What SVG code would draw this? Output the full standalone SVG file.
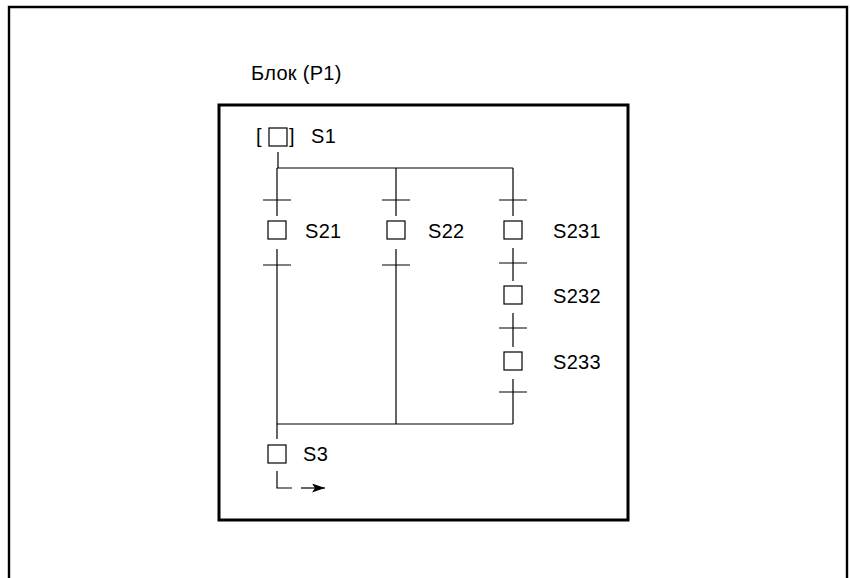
<svg xmlns="http://www.w3.org/2000/svg" width="850" height="578" viewBox="0 0 850 578">
<defs>
<style>
.ln{stroke:#000;stroke-width:1.2;fill:none}
.sq{stroke:#000;stroke-width:1.2;fill:#fff}
.t{font-family:"Liberation Sans",Arial,sans-serif;font-size:20px;letter-spacing:0.3px;fill:#000}
</style>
<marker id="ah" markerWidth="13" markerHeight="9" refX="13" refY="4.5" orient="auto" markerUnits="userSpaceOnUse">
<path d="M0,0 L13,4.5 L0,9 L3,4.5 Z" fill="#000"/>
</marker>
</defs>
<rect width="850" height="578" fill="#fff"/>
<path d="M9,580 V7 H847 V580" fill="none" stroke="#000" stroke-width="2.4"/>
<text class="t" x="251" y="80">Блок (P1)</text>
<rect x="219" y="105" width="409" height="415" fill="none" stroke="#000" stroke-width="3"/>
<g id="connectors">
<path class="ln" d="M278,152 V168 M277,168 H513"/>
<path class="ln" d="M277,168 V216 M263,200 H291"/>
<path class="ln" d="M396,168 V216 M382,200 H410"/>
<path class="ln" d="M513,168 V216 M499,200 H527"/>
<path class="ln" d="M277,249 V439 M263,265 H291"/>
<path class="ln" d="M396,249 V424 M382,265 H410"/>
<path class="ln" d="M513,248 V281 M499,263 H527"/>
<path class="ln" d="M513,313 V347 M499,328 H527"/>
<path class="ln" d="M513,379 V424 M499,392 H527"/>
<path class="ln" d="M277,424 H513"/>
<path class="ln" d="M277,471 V488 H292"/>
<path class="ln" d="M301,488 H325" marker-end="url(#ah)"/>
</g>
<g id="S1">
<text class="t" x="256" y="143">[</text>
<rect class="sq" x="269" y="128" width="18" height="18"/>
<text class="t" x="289" y="143">]</text>
<text class="t" x="311" y="143">S1</text>
</g>
<g id="S21">
<rect class="sq" x="268" y="221" width="18" height="18"/>
<text class="t" x="305" y="238">S21</text>
</g>
<g id="S22">
<rect class="sq" x="387" y="221" width="18" height="18"/>
<text class="t" x="428" y="238">S22</text>
</g>
<g id="S231">
<rect class="sq" x="504" y="221" width="18" height="18"/>
<text class="t" x="553" y="238">S231</text>
</g>
<g id="S232">
<rect class="sq" x="504" y="286" width="18" height="18"/>
<text class="t" x="553" y="303">S232</text>
</g>
<g id="S233">
<rect class="sq" x="504" y="352" width="18" height="18"/>
<text class="t" x="553" y="369">S233</text>
</g>
<g id="S3">
<rect class="sq" x="268" y="445" width="18" height="18"/>
<text class="t" x="303" y="461">S3</text>
</g>
</svg>
